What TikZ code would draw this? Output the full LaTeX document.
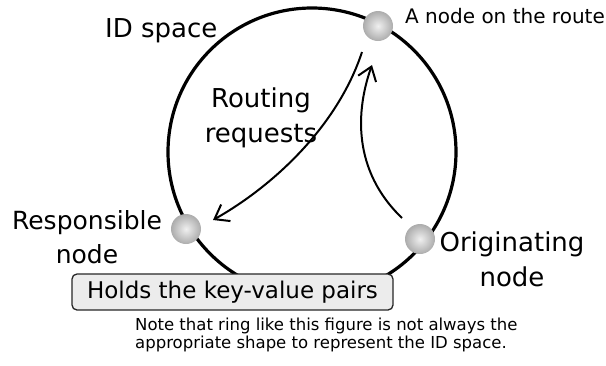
\documentclass[tikz,border=0pt]{standalone}
\usepackage{fontspec}
\setmainfont{DejaVu Sans}
\usetikzlibrary{arrows.meta}
\begin{document}
\begin{tikzpicture}[x=1pt,y=-1pt,
  ring/.style={line width=3.2pt,black},
  arr/.style={line width=2pt,-{Straight Barb[length=13pt,width=19pt,line width=2pt]}},
  ball/.style={circle,minimum size=30pt,inner sep=0pt,shading=radial,inner color=gray!12,outer color=gray!65},
  lbl/.style={inner sep=0pt,text=black},
  holdbox/.style={draw=black!85,line width=1.3pt,rounded corners=5pt,fill=gray!15,minimum width=321pt,minimum height=36pt,inner sep=0pt}]
\useasboundingbox (0,0) rectangle (606,365);
\node[lbl,anchor=base west,font=\fontsize{26}{30}\selectfont] (idspace) at (105,37) {ID space};
\draw[ring] (312,152) circle[radius=144];
\node[holdbox,font=\fontsize{23}{27}\selectfont] (hold) at (232.5,292) {Holds the key-value pairs};
\node[ball] (top) at (378,26) {};
\node[ball] (resp) at (186,229) {};
\node[ball] (orig) at (420,239) {};
\node[lbl,anchor=base west,font=\fontsize{20}{24}\selectfont] (toplbl) at (405,23) {A node on the route};
\node[lbl,anchor=north,align=center,font=\fontsize{26}{35}\selectfont] (routing) at (261,88) {Routing\\requests};
\node[lbl,anchor=north,align=center,font=\fontsize{25}{34}\selectfont] (resplbl) at (87,210) {Responsible\\node};
\node[lbl,anchor=north,align=center,font=\fontsize{26}{35}\selectfont] (origlbl) at (512,232) {Originating\\node};
\node[lbl,anchor=north west,align=left,font=\fontsize{16.5}{18}\selectfont] (note) at (135,318) {Note that ring like this figure is not always the\\appropriate shape to represent the ID space.};
\coordinate (a1s) at (362,52);
\coordinate (a1e) at (213,220);
\coordinate (a2s) at (402,218);
\coordinate (a2e) at (372,65);
\draw[arr] (a1s) .. controls (338,125) and (275,185) .. (a1e);
\draw[arr] (a2s) .. controls (352,170) and (356,110) .. (a2e);
\end{tikzpicture}
\end{document}
